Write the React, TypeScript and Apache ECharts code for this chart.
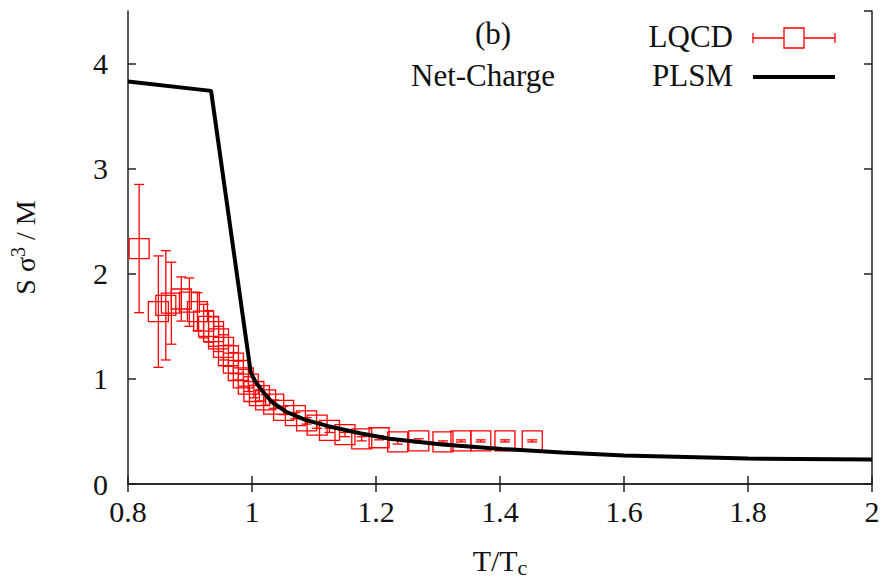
import React, { useEffect, useRef } from "react";
import * as echarts from "echarts";

// LQCD data: T/Tc, S sigma^3 / M, error
const lqcdT = [0.818, 0.849, 0.861, 0.870, 0.886, 0.899, 0.912, 0.922, 0.930, 0.938, 0.946, 0.954, 0.962, 0.970, 0.978, 0.986, 0.994, 1.003, 1.012, 1.022, 1.035, 1.051, 1.070, 1.088, 1.105, 1.125, 1.150, 1.177, 1.205, 1.235, 1.269, 1.308, 1.337, 1.369, 1.408, 1.452];
const lqcdY = [2.24, 1.64, 1.70, 1.72, 1.76, 1.73, 1.64, 1.55, 1.50, 1.45, 1.38, 1.30, 1.22, 1.15, 1.08, 1.01, 0.95, 0.88, 0.84, 0.80, 0.76, 0.70, 0.65, 0.60, 0.56, 0.51, 0.47, 0.43, 0.44, 0.40, 0.41, 0.40, 0.41, 0.41, 0.41, 0.41];
const lqcdErr = [0.61, 0.53, 0.52, 0.39, 0.21, 0.23, 0.18, 0.16, 0.15, 0.14, 0.12, 0.12, 0.10, 0.10, 0.09, 0.08, 0.07, 0.06, 0.05, 0.05, 0.04, 0.04, 0.03, 0.03, 0.03, 0.02, 0.02, 0.02, 0.02, 0.02, 0.02, 0.01, 0.01, 0.01, 0.01, 0.01];

// PLSM curve
const plsmT = [0.8, 0.934, 0.998, 1.005, 1.016, 1.032, 1.054, 1.086, 1.123, 1.176, 1.222, 1.307, 1.403, 1.5, 1.6, 1.8, 2.0];
const plsmY = [3.83, 3.74, 1.06, 0.98, 0.89, 0.78, 0.69, 0.61, 0.55, 0.48, 0.43, 0.375, 0.333, 0.30, 0.27, 0.242, 0.233];

const xTicks = [0.8, 1, 1.2, 1.4, 1.6, 1.8, 2];
const yTicks = [0, 1, 2, 3, 4];

const FONT = "'Liberation Serif', 'Times New Roman', serif";
const RED = "#ff0000";

export default function App() {
  const ref = useRef<HTMLDivElement>(null);
  useEffect(() => {
    if (!ref.current) return;
    const chart = echarts.init(ref.current, null, { renderer: "svg" });
    const lqcd = lqcdT.map((t, i) => [t, lqcdY[i], lqcdErr[i]]);
    const plsm = plsmT.map((t, i) => [t, plsmY[i]]);
    const axisLine = { show: true, lineStyle: { color: "#222", width: 1.5 } };
    const tickStyle = { show: true, inside: true, length: 8, lineStyle: { color: "#222", width: 1.5 } };
    chart.setOption({
      animation: false,
      backgroundColor: "#fff",
      textStyle: { fontFamily: FONT },
      grid: { left: 123, right: 13, top: 11, bottom: 95 },
      xAxis: [
        {
          type: "value",
          min: xTicks[0],
          max: xTicks[xTicks.length - 1],
          interval: 0.2,
          axisLine,
          axisTick: tickStyle,
          splitLine: { show: false },
          axisLabel: {
            color: "#111",
            fontFamily: FONT,
            fontSize: 30,
            margin: 12,
            formatter: (v: number) => String(Math.round(v * 10) / 10),
          },
          name: "{n|T/T}{s|c}",
          nameLocation: "middle",
          nameGap: 58,
          nameTextStyle: {
            fontFamily: FONT,
            rich: {
              n: { fontFamily: FONT, fontSize: 30, color: "#111", lineHeight: 36 },
              s: { fontFamily: FONT, fontSize: 22, color: "#111", padding: [14, 0, 0, 0] },
            },
          },
        },
        {
          type: "value",
          position: "top",
          min: xTicks[0],
          max: xTicks[xTicks.length - 1],
          interval: 0.2,
          axisLine,
          axisTick: tickStyle,
          axisLabel: { show: false },
          splitLine: { show: false },
        },
      ],
      yAxis: [
        {
          type: "value",
          min: 0,
          max: 4.5,
          interval: 1,
          axisLine,
          axisTick: tickStyle,
          splitLine: { show: false },
          axisLabel: {
            color: "#111",
            fontFamily: FONT,
            fontSize: 30,
            margin: 20,
            showMaxLabel: false,
            formatter: (v: number) => (yTicks.includes(v) ? String(v) : ""),
          },
          name: "{n|S σ}{p|3}{n| / M}",
          nameLocation: "middle",
          nameGap: 86,
          nameRotate: 90,
          nameTextStyle: {
            fontFamily: FONT,
            rich: {
              n: { fontFamily: FONT, fontSize: 28, color: "#111", lineHeight: 34 },
              p: { fontFamily: FONT, fontSize: 20, color: "#111", padding: [0, 0, 14, 0] },
            },
          },
        },
        {
          type: "value",
          position: "right",
          min: 0,
          max: 4.5,
          interval: 1,
          axisLine,
          axisTick: tickStyle,
          axisLabel: { show: false },
          splitLine: { show: false },
        },
      ],
      series: [
        {
          type: "custom",
          xAxisIndex: 0,
          yAxisIndex: 0,
          data: lqcd,
          z: 2,
          renderItem: (params: any, api: any) => {
            const x = api.value(0);
            const y = api.value(1);
            const e = api.value(2);
            const top = api.coord([x, y + e]);
            const bot = api.coord([x, y - e]);
            const st = { stroke: RED, lineWidth: 1.3 };
            const cw = 5;
            return {
              type: "group",
              children: [
                { type: "line", shape: { x1: top[0], y1: top[1], x2: bot[0], y2: bot[1] }, style: st },
                { type: "line", shape: { x1: top[0] - cw, y1: top[1], x2: top[0] + cw, y2: top[1] }, style: st },
                { type: "line", shape: { x1: bot[0] - cw, y1: bot[1], x2: bot[0] + cw, y2: bot[1] }, style: st },
              ],
            };
          },
        },
        {
          type: "scatter",
          name: "LQCD",
          data: lqcd.map((d) => [d[0], d[1]]),
          symbol: "rect",
          symbolSize: 20,
          z: 3,
          itemStyle: { color: "rgba(0,0,0,0)", borderColor: RED, borderWidth: 1.3, opacity: 1 },
        },
        {
          type: "line",
          name: "PLSM",
          data: plsm,
          showSymbol: false,
          symbol: "none",
          z: 4,
          lineStyle: { color: "#000", width: 4 },
        },
      ],
      graphic: [
        { type: "text", left: 475, top: 18, style: { text: "(b)", font: `31px ${FONT}`, fill: "#111" } },
        { type: "text", left: 411, top: 60, style: { text: "Net-Charge", font: `31px ${FONT}`, fill: "#111" } },
        { type: "text", right: 152, top: 21, style: { text: "LQCD", font: `31px ${FONT}`, fill: "#111" } },
        { type: "text", right: 152, top: 60, style: { text: "PLSM", font: `31px ${FONT}`, fill: "#111" } },
        { type: "line", shape: { x1: 753, y1: 38, x2: 835, y2: 38 }, style: { stroke: RED, lineWidth: 1.3 } },
        { type: "line", shape: { x1: 753, y1: 33, x2: 753, y2: 43 }, style: { stroke: RED, lineWidth: 1.3 } },
        { type: "line", shape: { x1: 835, y1: 33, x2: 835, y2: 43 }, style: { stroke: RED, lineWidth: 1.3 } },
        { type: "rect", shape: { x: 784, y: 28, width: 20, height: 20 }, style: { fill: "#fff", stroke: RED, lineWidth: 1.3 } },
        { type: "line", shape: { x1: 753, y1: 77, x2: 835, y2: 77 }, style: { stroke: "#000", lineWidth: 4 } },
      ],
    });
    return () => chart.dispose();
  }, []);
  return <div ref={ref} style={{ position: "fixed", left: 0, top: 0, width: 885, height: 583 }} />;
}
